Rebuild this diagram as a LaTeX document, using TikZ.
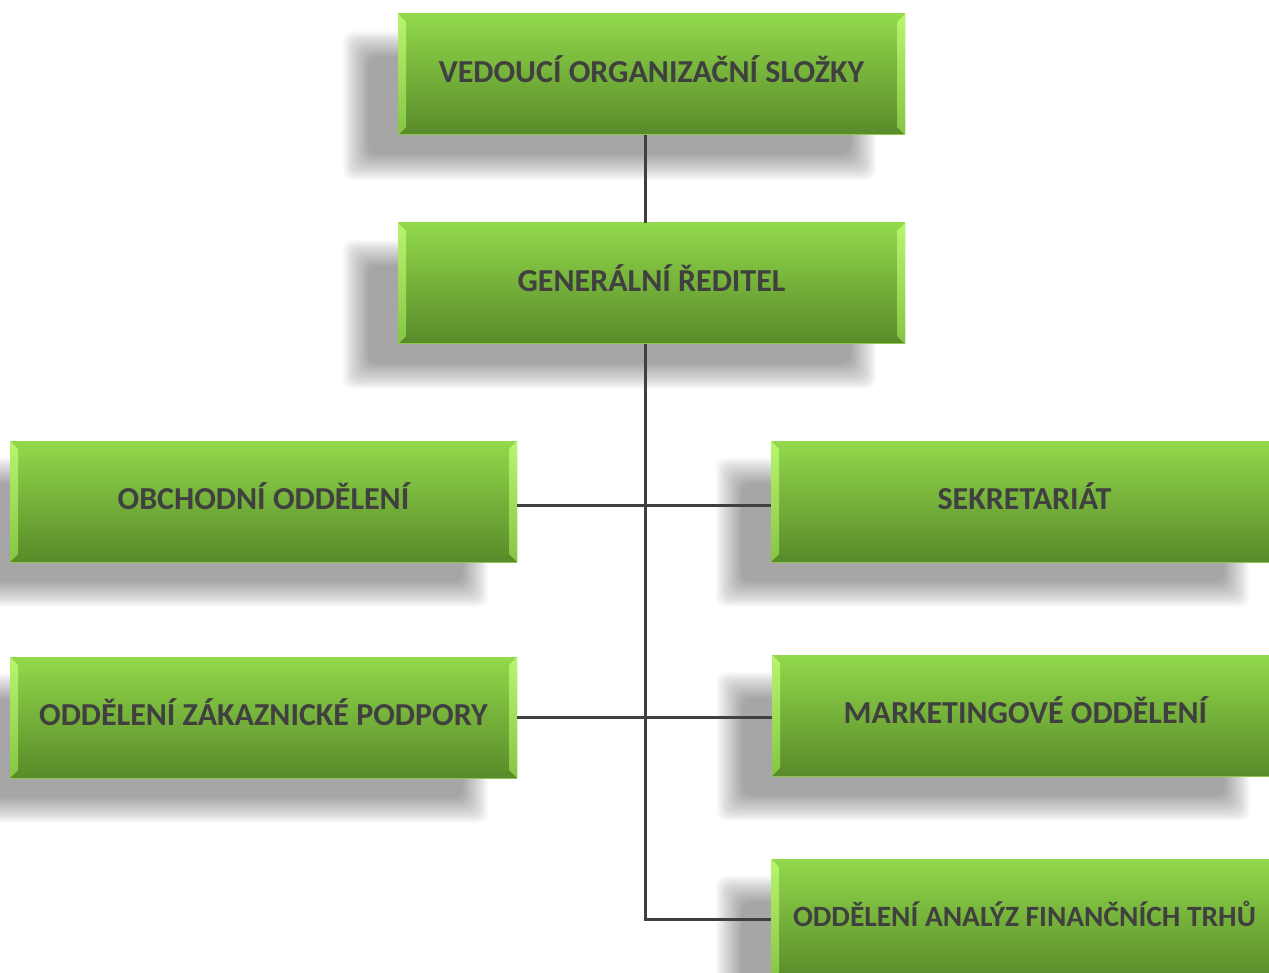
\documentclass[tikz,border=0pt]{standalone}
\usepackage{fontspec}
\setmainfont{Carlito}
\usetikzlibrary{backgrounds}
\definecolor{boxtop}{HTML}{92D94B}
\definecolor{boxbottom}{HTML}{588A29}
\definecolor{bevelhi}{HTML}{B8F56E}
\definecolor{bevello}{HTML}{86C545}
\definecolor{boxtext}{HTML}{404040}
\definecolor{linkgray}{HTML}{404040}
\tikzset{
  orgbox/.style={rectangle, minimum width=507pt, minimum height=121pt, inner sep=0pt,
    top color=boxtop, bottom color=boxbottom, draw=none,
    text=boxtext, font=\fontsize{32}{38}\selectfont\bfseries,
    text height=15.6pt, text depth=0pt,
    path picture={
      \shade[top color=bevelhi, bottom color=bevello]
        (path picture bounding box.north west) -- ++(8pt,-8pt)
        -- ([shift={(8pt,8pt)}]path picture bounding box.south west)
        -- (path picture bounding box.south west) -- cycle;
      \shade[top color=bevelhi, bottom color=bevello]
        (path picture bounding box.north east) -- ++(-8pt,-8pt)
        -- ([shift={(-8pt,8pt)}]path picture bounding box.south east)
        -- (path picture bounding box.south east) -- cycle;
      \draw[bevelhi!55!boxbottom, line width=1pt]
        (path picture bounding box.south west) -- (path picture bounding box.south east);
    }},
  smalltext/.style={font=\fontsize{29.4}{35}\selectfont\bfseries, text height=14.4pt},
  link/.style={draw=linkgray, line width=3pt},
  shadowstep/.style={fill=black, opacity=0.014, rounded corners=9pt}
}
% soft drop shadow behind a box
\newcommand{\boxshadow}[1]{%
  \foreach \s in {-13,...,13}
    \fill[shadowstep] ([shift={({-42-\s},{-30+\s})}]#1.north west)
      rectangle ([shift={({-42+\s},{-32-\s})}]#1.south east);
}
\begin{document}
\begin{tikzpicture}[x=1pt,y=1pt]
  \clip (0,0) rectangle (1269,-973);
  \node[orgbox] (head) at (651.5,-74.5) {VEDOUCÍ ORGANIZAČNÍ SLOŽKY};
  \node[orgbox] (ceo) at (651.5,-283.5) {GENERÁLNÍ ŘEDITEL};
  \node[orgbox] (sales) at (263.5,-501.5) {OBCHODNÍ ODDĚLENÍ};
  \node[orgbox] (secretary) at (1024.5,-501.5) {SEKRETARIÁT};
  \node[orgbox] (support) at (263.5,-717.5) {ODDĚLENÍ ZÁKAZNICKÉ PODPORY};
  \node[orgbox] (marketing) at (1025.5,-715.5) {MARKETINGOVÉ ODDĚLENÍ};
  \node[orgbox, smalltext] (markets) at (1024.5,-919.5) {ODDĚLENÍ ANALÝZ FINANČNÍCH TRHŮ};
  \begin{scope}[on background layer]
    \boxshadow{head}
    \boxshadow{ceo}
    \boxshadow{sales}
    \boxshadow{secretary}
    \boxshadow{support}
    \boxshadow{marketing}
    \boxshadow{markets}
  \end{scope}
  \begin{scope}[link]
    \draw ([xshift=-6.5pt]head.south) -- ([xshift=-6.5pt]ceo.north);
    \draw ([xshift=-6.5pt]ceo.south) |- (markets.west);
    \draw ([yshift=-3.5pt]sales.east) -- ([yshift=-3.5pt]secretary.west);
    \draw (support.east) -- ([yshift=-2pt]marketing.west);
  \end{scope}
\end{tikzpicture}
\end{document}
